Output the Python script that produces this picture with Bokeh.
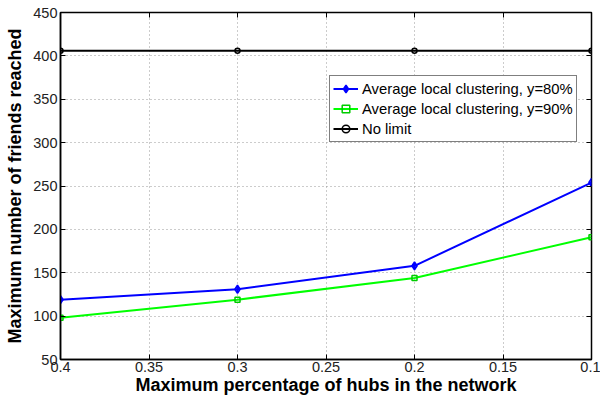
from bokeh.plotting import figure
from bokeh.models import Range1d, FixedTicker, LinearAxis, Legend, LegendItem
from bokeh.embed import file_html
from bokeh.resources import INLINE

x_vals = [0.4, 0.3, 0.2, 0.1]
blue_y = [119, 131, 158, 254]
green_y = [98, 119, 144, 191]
black_y = [406, 406, 406, 406]
x_ticks = [0.4, 0.35, 0.3, 0.25, 0.2, 0.15, 0.1]
x_tick_labels = ["0.4", "0.35", "0.3", "0.25", "0.2", "0.15", "0.1"]
y_ticks = [50, 100, 150, 200, 250, 300, 350, 400, 450]
labels = ["Average local clustering, y=80%", "Average local clustering, y=90%", "No limit"]

FONT = "Liberation Sans"

p = figure(width=600, height=399, output_backend="svg", toolbar_location=None,
           x_range=Range1d(0.4, 0.1), y_range=Range1d(50, 450),
           min_border_left=60, min_border_right=9, min_border_top=12, min_border_bottom=40)
p.outline_line_color = "black"
p.outline_line_width = 1.5

p.xaxis.ticker = FixedTicker(ticks=x_ticks)
p.xaxis.major_label_overrides = {t: l for t, l in zip(x_ticks, x_tick_labels)}
p.yaxis.ticker = FixedTicker(ticks=y_ticks)

for ax in [p.xaxis[0], p.yaxis[0]]:
    ax.major_tick_in = 5
    ax.major_tick_out = 0
    ax.minor_tick_in = 0
    ax.minor_tick_out = 0
    ax.axis_line_color = "black"
    ax.axis_line_width = 1.5
    ax.major_label_text_font = FONT
    ax.major_label_text_font_size = "14.5px"
    ax.major_label_text_color = "#222222"
    ax.axis_label_text_font = FONT
    ax.axis_label_text_font_size = "18px"
    ax.axis_label_text_font_style = "bold"
    ax.axis_label_text_color = "black"

p.xaxis.axis_label = "Maximum percentage of hubs in the network"
p.yaxis.axis_label = "Maximum number of friends reached"
p.xaxis.major_label_standoff = 2
p.xaxis.axis_label_standoff = 0
p.yaxis.major_label_standoff = 3
p.yaxis.axis_label_standoff = 5

# mirror axes (ticks only, no labels)
top = LinearAxis(ticker=FixedTicker(ticks=x_ticks),
                 major_label_overrides={t: "" for t in x_ticks},
                 major_tick_in=5, major_tick_out=0, minor_tick_in=0, minor_tick_out=0,
                 major_label_standoff=0, axis_line_color=None)
right = LinearAxis(ticker=FixedTicker(ticks=y_ticks),
                   major_label_overrides={t: "" for t in y_ticks},
                   major_tick_in=5, major_tick_out=0, minor_tick_in=0, minor_tick_out=0,
                   major_label_standoff=0, axis_line_color=None)
p.add_layout(top, "above")
p.add_layout(right, "right")

for g in [p.xgrid[0], p.ygrid[0]]:
    g.grid_line_color = "#999999"
    g.grid_line_dash = "1 3"
    g.grid_line_width = 1

r1 = p.line(x_vals, blue_y, line_color="#0000ff", line_width=2)
m1 = p.scatter(x_vals, blue_y, marker="diamond_cross", size=8, line_color="#0000ff",
               fill_color=None, line_width=1.5)
r2 = p.line(x_vals, green_y, line_color="#00ff00", line_width=2)
m2 = p.scatter(x_vals, green_y, marker="square", size=5, line_color="#00cc00",
               fill_color=None, line_width=1.5)
r3 = p.line(x_vals, black_y, line_color="black", line_width=2)
m3 = p.scatter(x_vals, black_y, marker="circle", size=5, line_color="black",
               fill_color=None, line_width=1.5)

legend = Legend(items=[LegendItem(label=labels[0], renderers=[r1, m1]),
                       LegendItem(label=labels[1], renderers=[r2, m2]),
                       LegendItem(label=labels[2], renderers=[r3, m3])],
                location=(269, 217))
legend.border_line_color = "black"
legend.border_line_width = 1.5
legend.background_fill_alpha = 1
legend.label_text_font = FONT
legend.label_text_font_size = "14.8px"
legend.label_text_color = "black"
legend.glyph_width = 25
legend.glyph_height = 19
legend.label_height = 19
legend.label_standoff = 4
legend.spacing = 1
legend.padding = 3
legend.margin = 0
p.add_layout(legend, "center")

open("out.html", "w").write(file_html(p, INLINE))
